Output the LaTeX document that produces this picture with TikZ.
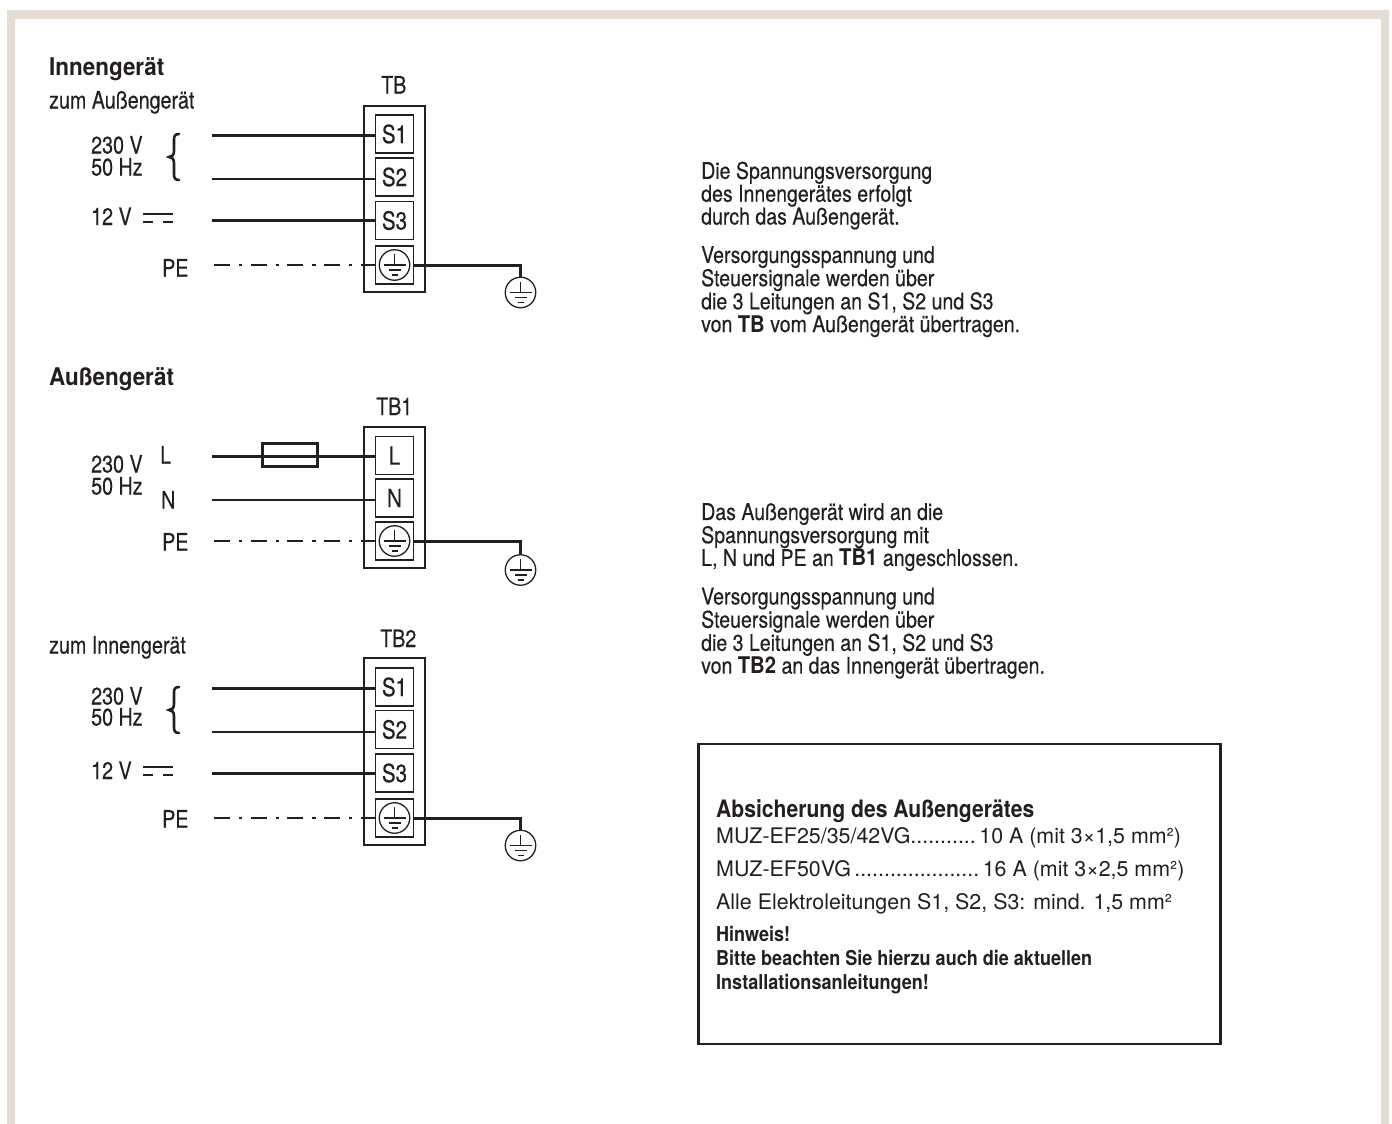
\documentclass[tikz,border=0pt]{standalone}
\usepackage{fontspec}
\setmainfont{TeX Gyre Heros}
\newfontfamily\narrow[FakeStretch=0.82,FakeBold=0.25]{TeX Gyre Heros}
\newfontfamily\narrowp[FakeStretch=0.85,FakeBold=0.25]{TeX Gyre Heros}
\newfontfamily\heavy[FakeStretch=0.92]{TeX Gyre Heros}
\newfontfamily\heavyb[FakeStretch=0.88]{TeX Gyre Heros}
\newfontfamily\wide{TeX Gyre Heros}
\definecolor{frame}{HTML}{E3DDD3}
\definecolor{ink}{HTML}{231F20}
\tikzset{x=1pt,y=-1pt,
 lab/.style={inner sep=0pt,text=ink,font=\narrow\fontsize{24}{24}\selectfont,anchor=base west},
 head/.style={inner sep=0pt,text=ink,font=\heavy\bfseries\fontsize{24.4}{24}\selectfont,anchor=base west},
 boxhead/.style={inner sep=0pt,text=ink,font=\heavyb\bfseries\fontsize{24}{24}\selectfont,anchor=base west},
 para/.style={inner sep=0pt,text=ink,font=\narrowp\fontsize{23}{21.3}\selectfont,anchor=north west,align=left},
 boxt/.style={inner sep=0pt,text=ink,font=\wide\fontsize{21.4}{21.4}\selectfont,anchor=base west},
 boxb/.style={inner sep=0pt,text=ink,font=\heavyb\bfseries\fontsize{20.5}{20.5}\selectfont,anchor=base west},
 outer/.style={draw=ink,line width=1.3pt,inner sep=0pt,minimum width=61pt},
 term/.style={draw=ink,line width=1.2pt,fill=white,inner sep=0pt,minimum width=38.5pt,minimum height=38pt,text=ink,font=\narrow\fontsize{25}{25}\selectfont},
 wire/.style={draw=ink,line width=3pt},
 thinwire/.style={draw=ink,line width=2.4pt},
 pe/.style={draw=ink,line width=2.6pt,dash pattern=on 16pt off 9pt on 3.3pt off 8.4pt},
 gndc/.style={circle,draw=ink,line width=1.3pt,fill=white,minimum size=30.5pt,inner sep=0pt},
 sym/.style={draw=ink,line width=1.4pt},
 dcl/.style={draw=ink,line width=2.8pt},
 fuse/.style={draw=ink,line width=2.2pt,minimum width=55pt,minimum height=23pt,inner sep=0pt},
 brace/.style={draw=ink,line width=2.6pt,line cap=round},
 gbox/.style={draw=ink,line width=2.2pt,inner sep=0pt},
}
\newcommand{\gndsym}[1]{%
 \draw[sym] ([yshift=11pt]#1.center) -- (#1.center);
 \draw[sym] ([xshift=-11pt]#1.center) -- ([xshift=11pt]#1.center);
 \draw[sym] ([xshift=-6pt,yshift=-5pt]#1.center) -- ([xshift=6pt,yshift=-5pt]#1.center);
 \draw[sym] ([xshift=-3pt,yshift=-10pt]#1.center) -- ([xshift=3pt,yshift=-10pt]#1.center);
}
\newcommand{\curlyb}[2]{% top y, bottom y
 \pgfmathsetmacro{\cm}{(#1+#2)/2}
 \draw[brace] (179,#1) .. controls (175,#1) and (174,#1+2) .. (174,#1+6) -- (174,\cm-6) .. controls (174,\cm-2) and (172,\cm) .. (169,\cm) .. controls (172,\cm) and (174,\cm+2) .. (174,\cm+6) -- (174,#2-6) .. controls (174,#2-2) and (175,#2) .. (179,#2);
}
\begin{document}
\begin{tikzpicture}
\useasboundingbox (0,0) rectangle (1392,1124);
\fill[white] (0,0) rectangle (1392,1124);
\fill[frame] (7,1124) -- (7,10) -- (1389,10) -- (1389,1124) -- (1381,1124) -- (1381,19) -- (15,19) -- (15,1124) -- cycle;

% --- Innengeraet
\node[head] (hInnen) at (49,75) {Innengerät};
\node[lab] (lZumA) at (49,108.5) {zum Außengerät};
\node[lab] (lTB) at (381,93.5) {TB};
\node[outer,minimum height=186pt] (oTB) at (394.5,199) {};
\node[term] (s1) at (394.5,134) {S1};
\node[term] (s2) at (394.5,177) {S2};
\node[term] (s3) at (394.5,220.5) {S3};
\node[term] (g0) at (394.5,265) {};
\node[gndc] (gi0) at (g0.center) {};
\gndsym{gi0}
\node[lab] (v1) at (91,153.5) {230 V};
\node[lab] (h1) at (91,175.5) {50 Hz};
\node[lab] (v12a) at (91,225) {12 V};
\node[lab] (peA) at (162,276.5) {PE};
\coordinate (a1) at (212,135);
\coordinate (a2) at (212,179);
\coordinate (a3) at (212,220);
\coordinate (ap) at (214,265);
\draw[wire] (a1) -- (s1.west |- a1);
\draw[thinwire] (a2) -- (s2.west |- a2);
\draw[wire] (a3) -- (s3.west |- a3);
\draw[pe] (ap) -- (g0.west |- ap);
\curlyb{134}{180}
\draw[dcl] (143,214) -- (173,214);
\draw[dcl] (143,222) -- (153,222) (163,222) -- (173,222);
\node[gndc] (ge0) at (520.5,292.5) {};
\gndsym{ge0}
\draw[wire] (g0.east) -- (ge0.north |- g0.east) -- (ge0.north);

% --- Aussengeraet
\node[head] (hAussen) at (49,385) {Außengerät};
\node[lab] (lTB1) at (376,415) {TB1};
\node[outer,minimum height=141pt] (oTB1) at (394.5,497.5) {};
\node[term] (l) at (394.5,455.5) {L};
\node[term] (n) at (394.5,498) {N};
\node[term] (g1) at (394.5,541) {};
\node[gndc] (gi1) at (g1.center) {};
\gndsym{gi1}
\node[lab] (v2) at (91,472.5) {230 V};
\node[lab] (h2) at (91,494.5) {50 Hz};
\node[lab] (lL) at (160,463.5) {L};
\node[lab] (lN) at (161,508.5) {N};
\node[lab] (peB) at (162,550.5) {PE};
\coordinate (b1) at (212,456);
\coordinate (b2) at (212,500);
\coordinate (bp) at (214,541);
\draw[wire] (b1) -- (l.west |- b1);
\draw[thinwire] (b2) -- (n.west |- b2);
\draw[pe] (bp) -- (g1.west |- bp);
\node[fuse] (fu) at (290,455) {};
\node[gndc] (ge1) at (520.5,570) {};
\gndsym{ge1}
\draw[wire] (g1.east) -- (ge1.north |- g1.east) -- (ge1.north);

% --- TB2
\node[lab] (lZumI) at (49,653.5) {zum Innengerät};
\node[lab] (lTB2) at (380,647) {TB2};
\node[outer,minimum height=187pt] (oTB2) at (394.5,751.5) {};
\node[term] (t1) at (394.5,687) {S1};
\node[term] (t2) at (394.5,729.5) {S2};
\node[term] (t3) at (394.5,773) {S3};
\node[term] (g2) at (394.5,818) {};
\node[gndc] (gi2) at (g2.center) {};
\gndsym{gi2}
\node[lab] (v3) at (91,704.5) {230 V};
\node[lab] (h3) at (91,725.5) {50 Hz};
\node[lab] (v12b) at (91,779) {12 V};
\node[lab] (peC) at (162,827.5) {PE};
\coordinate (c1) at (212,688);
\coordinate (c2) at (212,732);
\coordinate (c3) at (212,773);
\coordinate (cp) at (214,818);
\draw[wire] (c1) -- (t1.west |- c1);
\draw[thinwire] (c2) -- (t2.west |- c2);
\draw[wire] (c3) -- (t3.west |- c3);
\draw[pe] (cp) -- (g2.west |- cp);
\curlyb{687}{733}
\draw[dcl] (143,767) -- (173,767);
\draw[dcl] (143,775) -- (153,775) (163,775) -- (173,775);
\node[gndc] (ge2) at (520.5,845.5) {};
\gndsym{ge2}
\draw[wire] (g2.east) -- (ge2.north |- g2.east) -- (ge2.north);

% --- paragraphs
\node[para] (p1) at (701,161.5) {Die Spannungsversorgung\\des Innengerätes erfolgt\\durch das Außengerät.};
\node[para] (p2) at (701,246) {Versorgungsspannung und\\Steuersignale werden über\\die 3 Leitungen an S1, S2 und S3\\von {\heavyb\bfseries TB} vom Außengerät übertragen.};
\node[para] (p3) at (701,503) {Das Außengerät wird an die\\Spannungsversorgung mit\\L, N und PE an {\heavyb\bfseries TB1} angeschlossen.};
\node[para] (p4) at (701,587.5) {Versorgungsspannung und\\Steuersignale werden über\\die 3 Leitungen an S1, S2 und S3\\von {\heavyb\bfseries TB2} an das Innengerät übertragen.};

% --- info box
\node[gbox,minimum width=522pt,minimum height=300pt] (box) at (959.5,894) {};
\node[boxhead] (bh) at (716,817) {Absicherung des Außengerätes};
\node[boxt] (b1t) at (716,843) {MUZ-EF25/35/42VG...........\,10 A (mit 3×1,5 mm²)};
\node[boxt] (b2t) at (716,876) {MUZ-EF50VG\kern-2.5pt\ .....................\,16 A (mit 3×2,5 mm²)};
\node[boxt] (b3t) at (716,909) {Alle Elektroleitungen S1, S2, S3: mind. 1,5 mm²};
\node[boxb] (b4t) at (716,941) {Hinweis!};
\node[boxb] (b5t) at (716,965) {Bitte beachten Sie hierzu auch die aktuellen};
\node[boxb] (b6t) at (716,989) {Installationsanleitungen!};
\end{tikzpicture}
\end{document}
